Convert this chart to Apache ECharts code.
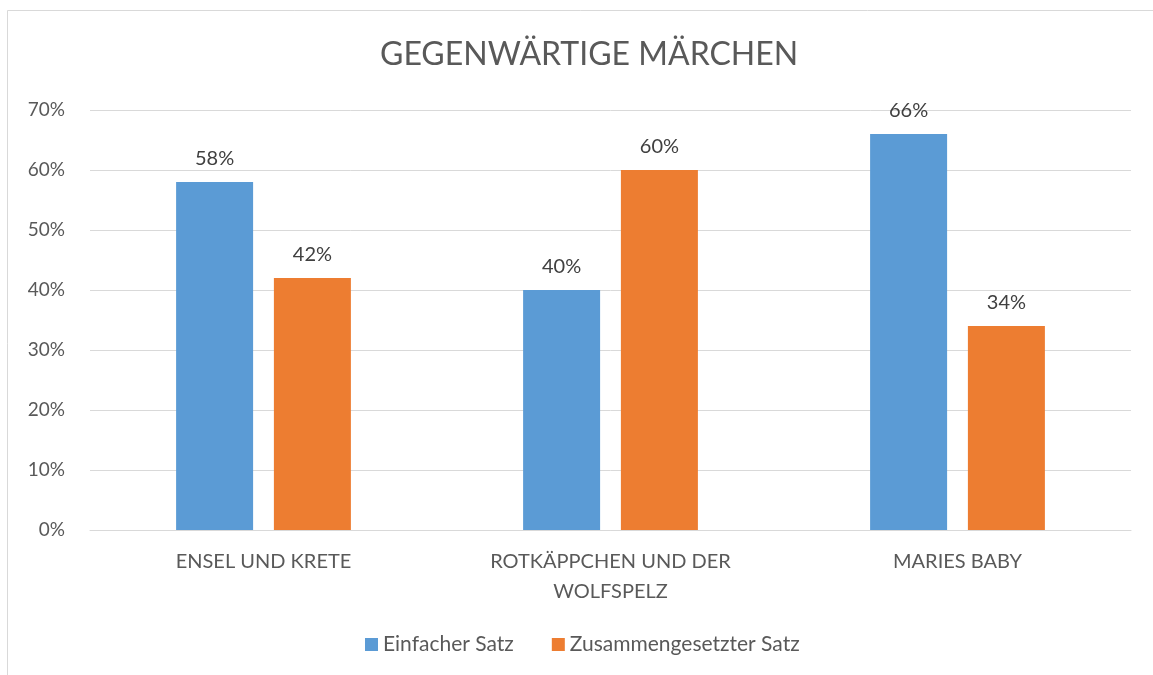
<!DOCTYPE html>
<html><head><meta charset="utf-8">
<script src="https://cdn.jsdelivr.net/npm/echarts@6/dist/echarts.min.js"></script>
<style>html,body{margin:0;padding:0;background:#fff}#c{width:1153px;height:675px}</style>
</head><body><div id="c"></div>
<script>
const categories = ['ENSEL UND KRETE', 'ROTKÄPPCHEN UND DER\nWOLFSPELZ', 'MARIES BABY'];
const einfacher = [58, 40, 66];
const zusammen = [42, 60, 34];
const yTicks = {min: 0, max: 70, interval: 10};
const font = 'Lato, "Open Sans", sans-serif';
const chart = echarts.init(document.getElementById('c'));
chart.setOption({
  animation: false,
  backgroundColor: '#fff',
  textStyle: {fontFamily: font},
  title: {text: 'GEGENWÄRTIGE MÄRCHEN', left: 375, top: 34,
    textStyle: {fontFamily: font, fontSize: 32, fontWeight: 'normal', color: '#595959'}},
  graphic: [{type: 'rect', shape: {x: 7.5, y: 10.5, width: 1170, height: 700},
    style: {fill: null, stroke: '#d9d9d9', lineWidth: 1}, silent: true}],
  grid: {left: 90, right: 22, top: 110, bottom: 145},
  legend: {bottom: 15, left: 360, itemWidth: 13, itemHeight: 13, itemGap: 38, icon: 'rect',
    textStyle: {fontFamily: font, fontSize: 21, color: '#595959'}},
  xAxis: {type: 'category', data: categories,
    axisLine: {lineStyle: {color: '#d9d9d9'}}, axisTick: {show: false},
    axisLabel: {fontFamily: font, fontSize: 20, color: '#595959', margin: 17, lineHeight: 30}},
  yAxis: {type: 'value', min: yTicks.min, max: yTicks.max, interval: yTicks.interval,
    axisLine: {show: false}, axisTick: {show: false},
    splitLine: {lineStyle: {color: '#d9d9d9'}},
    axisLabel: {formatter: '{value}%', fontFamily: font, fontSize: 19, color: '#595959', margin: 25}},
  series: [
    {name: 'Einfacher Satz', type: 'bar', data: einfacher, barWidth: 77, barGap: '27%',
     itemStyle: {color: '#5b9bd5'},
     label: {show: true, position: 'top', distance: 13, formatter: '{c}%', fontFamily: font, fontSize: 20, color: '#404040'}},
    {name: 'Zusammengesetzter Satz', type: 'bar', data: zusammen, barWidth: 77,
     itemStyle: {color: '#ed7d31'},
     label: {show: true, position: 'top', distance: 13, formatter: '{c}%', fontFamily: font, fontSize: 20, color: '#404040'}}
  ]
});
</script></body></html>
